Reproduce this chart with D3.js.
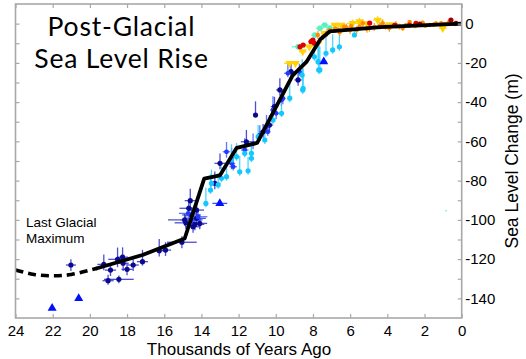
<!DOCTYPE html>
<html><head><meta charset="utf-8">
<script src="https://cdn.jsdelivr.net/npm/d3@7"></script>
<style>body{margin:0;background:#fff}svg{display:block}</style>
</head><body>
<svg id="c" width="526" height="359"></svg>
<script>
// ---- data: [thousand years ago, metres, x-error(ka), y-error below, y-error above]
const navyPoints = [
 [21.02,-123.0,0.27,3,3],[19.25,-122.7,0.35,3,5],[18.89,-125.6,0.3,3,3],[19.02,-131,0.3,2,3],
 [18.44,-130.3,0.8,2,2],[18.51,-120.1,0.5,4,6],[18.24,-119,0.3,3,5],[18.21,-122.1,0.3,4,4],
 [18.0,-125.2,0.3,3,3],[17.67,-123,0.3,3,3],[17.17,-121.3,0.3,2,6],[16.27,-115.7,0.3,3,6],
 [15.93,-115.4,0.3,3,4],[15.05,-111.4,0.8,3,3],[14.6,-90.2,0.3,4,6],[14.68,-94.1,0.5,3,4],
 [14.9,-100,0.9,3,3],[14.84,-101.5,0.6,3,4],[14.53,-97.5,0.5,4,4],[14.26,-99.2,0.5,3,4],
 [14.35,-102.3,0.5,3,3],[14.26,-95,0.4,4,5],[14.09,-101.8,0.4,3,3],[14.45,-103.5,0.4,3,3],
 [13.28,-81.4,0.3,3,6],[13.0,-71.2,0.3,3,5],[11.58,-60.2,0.3,3,6],[11.09,-46.6,0.1,1,7],
 [9.78,-33.8,0.2,3,6],[9.18,-24.5,0.2,2,5],[8.8,-28.7,0.2,3,3],[10.07,-42.3,0.2,3,5],
 [10.34,-51.7,0.2,3,5],[10.68,-55.1,0.2,3,4]
];
const bluePoints = [
 [9.7,-39,0.15,3,6],[10.15,-44,0.15,3,7],[10.5,-52.5,0.15,3,6],[10.86,-56.8,0.15,3,5],
 [11.22,-61,0.2,3,5],[11.67,-64.4,0.2,3,6],[12.38,-71.2,0.2,3,8],[12.65,-65.3,0.2,3,5],
 [12.29,-72.9,0.2,2,5],[9.35,-25.3,0.2,2,5],[8.73,-24.5,0.15,2,4],[9.98,-45.7,0.15,3,5],
 [9.62,-38.1,0.15,3,4],[10.43,-55.1,0.15,2,4],[14.71,-96.7,0.5,4,4],[14.53,-100,0.6,3,3],
 [14.18,-98.4,0.5,3,3]
];
const blueTriangles = [[22.03,-145,0,0,0],[20.6,-140,0,0,0],[13.01,-91.6,0.4,0,0],[7.42,-19.4,0.15,0,0]];
const cyanPoints = [
 [13.76,-91.6,0.1,2,8],[13.51,-84.8,0.1,2,8],[13.1,-82.2,0.1,2,6],[13.46,-81.4,0.1,2,7],
 [12.92,-78.8,0.1,2,6],[12.65,-78,0.1,2,7],[11.94,-75.5,0.1,2,8],[11.49,-75,0.1,2,7],
 [11.67,-66.1,0.1,2,6],[11.31,-66.1,0.1,2,6],[12.38,-69.5,0.1,2,8],[12.11,-67.8,0.1,2,7],
 [10.59,-59.3,0.1,2,6],[11.31,-68.6,0.1,2,6],[9.25,-38,0.1,2,8],[8.53,-33,0.1,2,10],
 [7.63,-23.6,0.1,2,12],[7.73,-19.4,0.1,2,10],[9.69,-45.7,0.1,2,9],[10.15,-49.1,0.1,2,8],
 [10.95,-57.6,0.1,2,6],[8.58,-26.2,0.1,2,8],[8.55,-33.8,0.1,2,12],[7.92,-16.9,0.1,2,12],
 [7.69,-23.6,0.1,2,14],[7.3,-15.1,0.1,2,10],[6.94,-13.4,0.1,2,8],[6.58,-11.8,0.1,2,8],
 [5.77,-5.8,0.1,1,3]
];
const strayPoints = [[0.84,-95.3,0,0,0]];
const aquaPoints = [[8.8,-11.8,0.35,1,1],[7.9,-5.8,0.2,1,1],[7.63,-2.4,0.2,1,1],[7.37,-0.7,0.2,1,1],[7.1,-2.2,0.2,1,1]];
const yellowTriangles = [
 [9.26,-20.2,0.3,0,0],[8.94,-20.2,0.2,0,0],[8.55,-14.3,0.2,1,1],[8.19,-11.8,0.2,1,1],
 [7.38,-4.9,0.2,1,1],[6.49,-0.7,0.25,1,1],[6.83,-0.7,0.2,1,1],[5.86,0.15,0.3,1,2],
 [5.5,1,0.2,1,2],[4.52,1.8,0.25,1,2],[3.9,-0.5,0.2,1,1],[1.02,-2.4,0.2,1,1],[5.1,0,0.2,1,1]
];
const orangePoints = [
 [7.74,-5.8,0.1,2,2],[7.65,-9.2,0.1,2,2],[7.1,-3.3,0.1,2,2],[6.33,-1.6,0.1,2,2],[6.0,-3.3,0.1,2,2],
 [5.32,0.2,0.1,2,2],[4.96,-2.2,0.1,2,2],[4.25,0.2,0.1,2,2],[3.89,-2.2,0.1,2,2],[3.53,-0.7,0.1,2,2],
 [3.17,-2.2,0.1,1.5,1.5],[2.1,0.5,0.1,1,1],[1.74,-0.7,0.1,1,1],[1.38,0.15,0.1,1,1],[2.5,-1.2,0.1,1,1],
 [0.9,-0.2,0.1,1,1],[0.38,-0.2,0.1,1,1],[6.56,-4.3,0.1,2,2],[5.65,-3.3,0.1,2,2],[4.7,-1.7,0.1,2,2],
 [2.8,0.8,0.1,1,1],[6.8,-2.6,0.1,2,2],[6.2,-2.0,0.1,2,2],[5.5,-1.5,0.1,2,2],[4.4,-1.0,0.1,2,2],
 [3.0,-0.8,0.1,1,1],[2.3,-0.3,0.1,1,1],[1.5,-0.4,0.1,1,1],[0.7,0.6,0.1,1,1],
 [7.45,-6.5,0.1,2,2],[7.25,-4.8,0.1,2,2],[6.65,-3.2,0.1,2,2],[5.95,-1.2,0.1,2,2],[5.1,-2.6,0.1,2,2],
 [4.1,-1.6,0.1,1.5,1.5],[3.35,-1.5,0.1,1.5,1.5],[1.95,-1.1,0.1,1,1],[1.1,0.2,0.1,1,1]
];
const redPoints = [
 [8.7,-11.8,0.1,1,1],[8.1,-9.2,0.15,1,1],[7.92,-10,0.15,1,1],[8.01,-8.4,0.15,1,1],[8.53,-10.9,0.15,1,1],
 [2.81,-0.7,0.1,1,1],[2.46,0.15,0.1,1,1],[3.6,-0.7,0.1,1,1],[4.95,0.3,0.1,1,1]
];
const darkRedPoints = [[0.58,1.8,0.1,1,1],[0.31,0.15,0.1,1,1],[2.26,-0.2,0.1,1,1]];

const dashedCurve = [[24,-125.5],[23,-127.8],[22,-128.5],[21,-127.8],[20,-125.6],[19.6,-124.6]];
const solidCurve = [[19.7,-124.9],[17.17,-117.9],[14.9,-109.5],[13.85,-79],[13.0,-77.3],[12.1,-63.3],
 [11.0,-60.8],[9.1,-26.5],[8.35,-19.5],[7.6,-8],[7.1,-4],[4.4,-1.8],[0,0]];

const xTicks = d3.range(0, 25, 2);
const yTicks = d3.range(-140, 1, 10);
const yLabels = d3.range(-140, 1, 20);
const titleLines = ["Post-Glacial", "Sea Level Rise"];
const noteLines = ["Last Glacial", "Maximum"];
const xTitle = "Thousands of Years Ago";
const yTitle = "Sea Level Change (m)";

// ---- drawing
const svg = d3.select("#c");
const L = 15.5, R = 461.7, T = 4, B = 318;
const x = d3.scaleLinear().domain([24, 0]).range([L, R]);
const y = d3.scaleLinear().domain([-150, 10]).range([B, T]);
const axisCol = "#a8a8a8";
const sans = "'Liberation Sans', Arial, sans-serif";

svg.append("defs").append("clipPath").attr("id","clip")
  .append("rect").attr("x",L).attr("y",T).attr("width",R-L).attr("height",B-T);

const plot = svg.append("g").attr("clip-path","url(#clip)");

const series = [
  {data: navyPoints, fill:"#0a0a90", bar:"#3030c8", shape:"circle", r:2.6, op:0.85},
  {data: bluePoints, fill:"#1f3bff", bar:"#3a55ff", shape:"circle", r:2.4, op:0.8},
  {data: cyanPoints, fill:"#14c8ff", bar:"#30d0ff", shape:"circle", r:2.6, op:0.85},
  {data: aquaPoints, fill:"#5cf0c0", bar:"#5cf0c0", shape:"circle", r:2.8, op:0.9},
  {data: yellowTriangles, fill:"#ffd200", bar:"#ffd200", shape:"down", r:3.6, op:0.9},
  {data: orangePoints, fill:"#ff8a00", bar:"#ff9a20", shape:"circle", r:2.2, op:0.9},
  {data: redPoints, fill:"#e00000", bar:"#ff3030", shape:"circle", r:2.6, op:0.9},
  {data: darkRedPoints, fill:"#a00000", bar:"#b02020", shape:"circle", r:2.6, op:0.9},
  {data: blueTriangles, fill:"#0010ff", bar:"#2040ff", shape:"up", r:4.0, op:0.9},
  {data: strayPoints, fill:"#9fe8f0", bar:"#9fe8f0", shape:"circle", r:1, op:1}
];

series.forEach(s => {
  const g = plot.append("g");
  g.selectAll("line.v").data(s.data.filter(d => d[3] + d[4] > 0)).join("line")
    .attr("x1", d => x(d[0])).attr("x2", d => x(d[0]))
    .attr("y1", d => y(d[1] - d[3])).attr("y2", d => y(d[1] + d[4]))
    .attr("stroke", s.bar).attr("stroke-width", 1.3).attr("opacity", s.op);
  g.selectAll("line.h").data(s.data.filter(d => d[2] > 0)).join("line")
    .attr("x1", d => x(d[0] + d[2])).attr("x2", d => x(d[0] - d[2]))
    .attr("y1", d => y(d[1])).attr("y2", d => y(d[1]))
    .attr("stroke", s.bar).attr("stroke-width", 1.3).attr("opacity", s.op);
});
series.forEach(s => {
  const g = plot.append("g");
  if (s.shape === "circle") {
    g.selectAll("circle").data(s.data).join("circle")
      .attr("cx", d => x(d[0])).attr("cy", d => y(d[1])).attr("r", s.r)
      .attr("fill", s.fill);
  } else {
    const sym = d3.symbol().type(d3.symbolTriangle).size(s.r * s.r * 2.2);
    g.selectAll("path").data(s.data).join("path")
      .attr("d", sym)
      .attr("transform", d => `translate(${x(d[0])},${y(d[1])})${s.shape === "down" ? " rotate(180)" : ""}`)
      .attr("fill", s.fill);
  }
});

const line = d3.line().x(d => x(d[0])).y(d => y(d[1]));
plot.append("path").datum(dashedCurve)
  .attr("d", line.curve(d3.curveNatural))
  .attr("fill","none").attr("stroke","#000").attr("stroke-width",3.6)
  .attr("stroke-dasharray","8,5");
plot.append("path").datum(solidCurve)
  .attr("d", d3.line().x(d => x(d[0])).y(d => y(d[1])))
  .attr("fill","none").attr("stroke","#000").attr("stroke-width",3.8)
  .attr("stroke-linejoin","round");

// frame
svg.append("rect").attr("x",L).attr("y",T).attr("width",R-L).attr("height",B-T)
  .attr("fill","none").attr("stroke",axisCol).attr("stroke-width",1.6);

// axes
const axB = svg.append("g").attr("transform",`translate(0,${B})`)
  .call(d3.axisBottom(x).tickValues(xTicks).tickSize(-4).tickPadding(7.5).tickFormat(d => String(d)));
const axT = svg.append("g").attr("transform",`translate(0,${T})`)
  .call(d3.axisTop(x).tickValues(xTicks).tickSize(-4).tickFormat(""));
const axR = svg.append("g").attr("transform",`translate(${R},0)`)
  .call(d3.axisRight(y).tickValues(yTicks).tickSize(-4).tickPadding(3.5)
    .tickFormat(d => yLabels.includes(d) ? String(d) : ""));
const axL = svg.append("g").attr("transform",`translate(${L},0)`)
  .call(d3.axisLeft(y).tickValues(yTicks).tickSize(-4).tickFormat(""));
[axB, axT, axR, axL].forEach(a => {
  a.select(".domain").remove();
  a.selectAll(".tick line").attr("stroke", axisCol).attr("stroke-width",1.2);
  a.selectAll(".tick text").attr("fill","#000").attr("font-family",sans).attr("font-size",15);
});

// titles
svg.append("g").selectAll("text").data(titleLines).join("text")
  .attr("x",121.5).attr("y",(d,i) => 36 + i*32).attr("text-anchor","middle")
  .attr("font-family","Lato, 'Open Sans', sans-serif").attr("font-size",26.5)
  .attr("letter-spacing",0.8).attr("fill","#000").text(d => d);
svg.append("text").attr("font-family",sans).attr("font-size",13.5).attr("fill","#000")
  .selectAll("tspan").data(noteLines).join("tspan")
  .attr("x",26).attr("y",(d,i) => 226.5 + i*16.5).text(d => d);
svg.append("text").attr("x",239).attr("y",355).attr("text-anchor","middle")
  .attr("font-family",sans).attr("font-size",17).attr("fill","#000").text(xTitle);
svg.append("text").attr("transform","translate(518,161) rotate(-90)").attr("text-anchor","middle")
  .attr("font-family",sans).attr("font-size",17.5).attr("fill","#000").text(yTitle);
</script>
</body></html>
